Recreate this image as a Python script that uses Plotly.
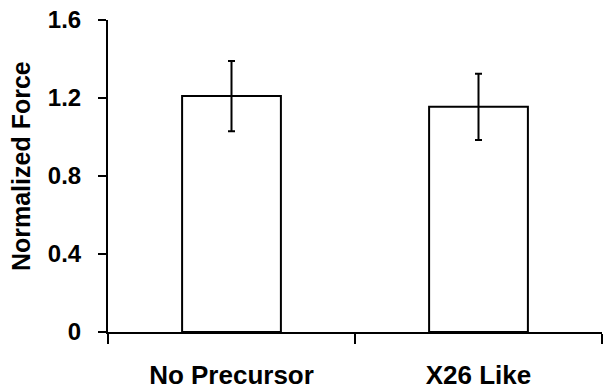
import plotly.graph_objects as go

categories = ["No Precursor", "X26 Like"]
values = [1.21, 1.155]
errors = [0.18, 0.17]
y_ticks = [0, 0.4, 0.8, 1.2, 1.6]
y_tick_labels = ["0", "0.4", "0.8", "1.2", "1.6"]
y_title = "Normalized Force"

font_family = "Liberation Sans, Arial, sans-serif"

fig = go.Figure(
    go.Bar(
        x=categories,
        y=values,
        width=0.4,
        marker=dict(color="white", line=dict(color="black", width=2)),
        error_y=dict(type="data", array=errors, visible=True, color="black", thickness=2, width=3.5),
    )
)

fig.update_layout(
    width=615,
    height=391,
    margin=dict(l=108, r=13, t=20, b=59),
    plot_bgcolor="white",
    paper_bgcolor="white",
    showlegend=False,
    font=dict(family=font_family, size=18, color="black"),
)

fig.update_xaxes(
    automargin=False,
    showline=True,
    linecolor="black",
    linewidth=2,
    ticks="outside",
    tickson="boundaries",
    ticklen=10,
    tickwidth=2,
    tickcolor="black",
    ticklabelstandoff=19,
    tickfont=dict(family=font_family, size=26, color="black", weight="bold"),
    showgrid=False,
    zeroline=False,
)

fig.update_yaxes(
    automargin=False,
    range=[0, 1.6],
    tickvals=y_ticks,
    ticktext=y_tick_labels,
    showline=True,
    linecolor="black",
    linewidth=2,
    ticks="outside",
    ticklen=8,
    tickwidth=2,
    tickcolor="black",
    ticklabelstandoff=12,
    tickfont=dict(family=font_family, size=24, color="black", weight="bold"),
    showgrid=False,
    zeroline=False,
)

fig.add_annotation(
    text=y_title,
    xref="paper",
    yref="paper",
    x=-0.176,
    y=0.532,
    xanchor="center",
    yanchor="middle",
    textangle=-90,
    showarrow=False,
    font=dict(family=font_family, size=25, color="black", weight="bold"),
)

fig.write_html("out.html")
